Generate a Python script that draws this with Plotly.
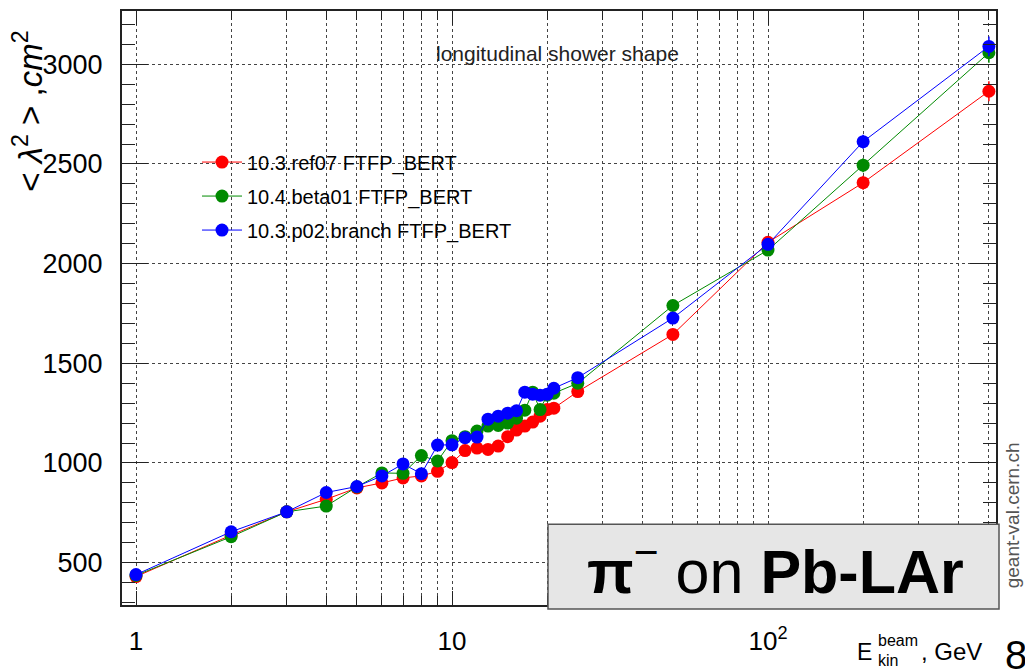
import plotly.graph_objects as go

# ---- data ----
energy = [1, 2, 3, 4, 5, 6, 7, 8, 9, 10, 11, 12, 13, 14, 15, 16, 17, 18, 19, 20, 21, 25, 50, 100, 200, 500]
ref07 = [430, 638, 755, 818, 875, 900, 925, 935, 958, 1002, 1062, 1075, 1068, 1085, 1132, 1165,
         1185, 1205, 1235, 1268, 1275, 1358, 1645, 2107, 2406, 2865]
beta01 = [436, 630, 755, 784, 880, 950, 948, 1037, 1010, 1112, 1132, 1160, 1185, 1188, 1200, 1225,
          1265, 1355, 1268, 1340, 1350, 1400, 1790, 2068, 2494, 3058]
p02 = [440, 655, 755, 852, 882, 935, 995, 946, 1090, 1091, 1127, 1130, 1220, 1235, 1250, 1262,
       1355, 1345, 1340, 1345, 1375, 1428, 1727, 2097, 2612, 3090]
err = [8, 8, 8, 8, 8, 8, 8, 8, 8, 8, 8, 8, 8, 8, 8, 8, 8, 8, 8, 8, 8, 10, 15, 25, 35, 50]

series_names = ["10.3.ref07 FTFP_BERT", "10.4.beta01 FTFP_BERT", "10.3.p02.branch FTFP_BERT"]
series_colors = ["#ff0000", "#008a00", "#0000ff"]
series_values = [ref07, beta01, p02]

x_major_vals = [1, 10, 100]
x_major_text = ["1", "10", "10<sup>2</sup>"]
x_minor_vals = [2, 3, 4, 5, 6, 7, 8, 9, 20, 30, 40, 50, 60, 70, 80, 90, 200, 300, 400, 500]

# ---- layout geometry (pixels) ----
W, H = 1025, 672
L, R, T, B = 122, 996, 9, 605


def px(x):
    return (x - L) / (R - L)


def py(y):
    return (B - y) / (B - T)


fig = go.Figure()
for name, col, vals in zip(series_names, series_colors, series_values):
    fig.add_trace(go.Scatter(
        x=energy, y=vals, name=name, mode="lines+markers",
        line=dict(color=col, width=1),
        marker=dict(color=col, size=13, line=dict(width=0)),
        error_y=dict(type="data", array=err, color=col, thickness=1.5, width=0),
        legendgroup=name,
    ))

font = "Liberation Sans, Arial, Helvetica, sans-serif"
grid = dict(showgrid=True, gridcolor="#444", griddash="dot", gridwidth=1)

fig.update_layout(
    width=W, height=H,
    margin=dict(l=L, r=W - R, t=T, b=H - B),
    paper_bgcolor="white", plot_bgcolor="white",
    font=dict(family=font, color="black"),
    showlegend=True,
    legend=dict(x=px(197), y=py(141), xanchor="left", yanchor="top",
                bgcolor="rgba(0,0,0,0)", font=dict(size=20, family=font),
                tracegroupgap=5, itemwidth=40),
    xaxis=dict(type="log", range=[-0.0443, 2.7215],
               tickmode="array", tickvals=x_major_vals, ticktext=x_major_text,
               ticks="inside", ticklen=14, tickwidth=1, tickcolor="#222",
               minor=dict(tickvals=x_minor_vals, ticks="inside", ticklen=9, tickcolor="#222", **grid),
               showline=True, linecolor="#222", linewidth=2, mirror="ticks",
               tickfont=dict(size=26), ticklabelstandoff=12, zeroline=False, **grid),
    yaxis=dict(range=[287.5, 3267.5], tick0=0, dtick=500,
               ticks="inside", ticklen=26, tickwidth=1, tickcolor="#222",
               showline=True, linecolor="#222", linewidth=2, mirror="ticks",
               minor=dict(dtick=100, ticks="inside", ticklen=13, tickcolor="#222", showgrid=False),
               tickfont=dict(size=27), ticklabelstandoff=12, zeroline=False, **grid),
)

# label box "pi- on Pb-LAr"
fig.add_shape(type="rect", xref="paper", yref="paper",
              x0=px(548), x1=px(999), y0=py(609), y1=py(524),
              fillcolor="#e6e6e6", line=dict(color="#555", width=1.5), layer="above")
fig.add_annotation(xref="paper", yref="paper", x=px(775), y=py(567),
                   xanchor="center", yanchor="middle", showarrow=False,
                   text="<b>π</b><sup>−</sup> on <b>Pb-LAr</b>",
                   font=dict(size=61, family=font, color="black"))

# in-plot caption
fig.add_annotation(xref="paper", yref="paper", x=px(557), y=py(52),
                   xanchor="center", yanchor="middle", showarrow=False,
                   text="longitudinal shower shape",
                   font=dict(size=21, family=font, color="#222"))

# y-axis title
fig.add_annotation(xref="paper", yref="paper", x=px(28), y=py(110),
                   xanchor="center", yanchor="middle", showarrow=False, textangle=-90,
                   text="< <i>λ</i><sup>2</sup> > ,<i>cm</i><sup>2</sup>",
                   font=dict(size=33, family=font, color="black"))

# x-axis title (stacked sub/superscript)
fig.add_annotation(xref="paper", yref="paper", x=px(864), y=py(652),
                   xanchor="center", yanchor="middle", showarrow=False,
                   text="E", font=dict(size=23, family=font))
fig.add_annotation(xref="paper", yref="paper", x=px(876), y=py(641),
                   xanchor="left", yanchor="middle", showarrow=False,
                   text="beam", font=dict(size=16, family=font))
fig.add_annotation(xref="paper", yref="paper", x=px(876), y=py(661),
                   xanchor="left", yanchor="middle", showarrow=False,
                   text="kin", font=dict(size=16, family=font))
fig.add_annotation(xref="paper", yref="paper", x=px(919), y=py(652),
                   xanchor="left", yanchor="middle", showarrow=False,
                   text=", GeV", font=dict(size=24, family=font))
fig.add_annotation(xref="paper", yref="paper", x=px(1003), y=py(655),
                   xanchor="left", yanchor="middle", showarrow=False,
                   text="8", font=dict(size=40, family=font))

# watermark
fig.add_annotation(xref="paper", yref="paper", x=px(1012), y=py(515),
                   xanchor="center", yanchor="middle", showarrow=False, textangle=-90,
                   text="geant-val.cern.ch", font=dict(size=19, family=font, color="#555"))

fig.write_html("out.html")
